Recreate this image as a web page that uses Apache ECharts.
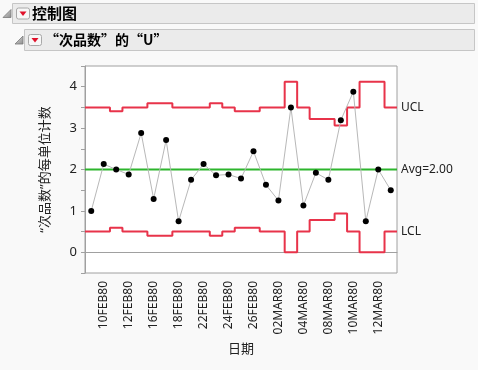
<!DOCTYPE html>
<html><head><meta charset="utf-8">
<script src="https://cdn.jsdelivr.net/npm/echarts@6/dist/echarts.min.js"></script>
<style>html,body{margin:0;padding:0;background:#f9f9f9;}#c{width:478px;height:370px;}</style>
</head><body><div id="c"></div>
<script>
const dates = ['09FEB80','10FEB80','11FEB80','12FEB80','15FEB80','16FEB80','17FEB80','18FEB80','19FEB80','22FEB80','23FEB80','24FEB80','25FEB80','26FEB80','01MAR80','02MAR80','03MAR80','04MAR80','07MAR80','08MAR80','09MAR80','10MAR80','11MAR80','12MAR80','13MAR80'];
const uValues = [1.0,2.13,2.0,1.88,2.88,1.29,2.71,0.75,1.75,2.13,1.86,1.88,1.78,2.44,1.63,1.25,3.5,1.13,1.92,1.75,3.19,3.88,0.75,2.0,1.5];
const ucl = [3.5,3.5,3.41,3.5,3.5,3.6,3.6,3.5,3.5,3.5,3.6,3.5,3.41,3.41,3.5,3.5,4.12,3.5,3.22,3.22,3.06,3.5,4.12,4.12,3.5];
const lcl = [0.5,0.5,0.59,0.5,0.5,0.4,0.4,0.5,0.5,0.5,0.4,0.5,0.59,0.59,0.5,0.5,0,0.5,0.78,0.78,0.94,0.5,0,0,0.5];
const avg = 2.0;
const yTicks = [0,1,2,3,4];
const title1 = '控制图';
const title2 = '“次品数”的“U”';
const yTitle = '“次品数”的每单位计数';
const xTitle = '日期';

const FONT = '"Noto Sans", "Noto Sans CJK SC", sans-serif';
const CJKFONT = '"Noto Sans CJK SC", "Noto Sans", sans-serif';
const n = dates.length;
function stepData(arr){ const d = arr.map((v,i)=>[i,v]); d.push([n, arr[arr.length-1]]); return d; }

const chart = echarts.init(document.getElementById('c'), null, {renderer:'canvas'});
const triGrad = new echarts.graphic.LinearGradient(0,0,1,1,[{offset:0,color:'#e0e0e0'},{offset:1,color:'#8a8a8a'}]);
function header(x, y, w, h, triX, btnX, textX, text, fs, font){
  const cy = y + h/2;
  return [
    {type:'rect', shape:{x:x, y:y, width:w, height:h}, style:{fill:'#ebebeb', stroke:'#c6c6c6', lineWidth:1}},
    {type:'polygon', shape:{points:[[triX, cy+4],[triX+8, cy+4],[triX+8, cy-4]]}, style:{fill:triGrad, stroke:'#7a7a7a', lineWidth:0.8}},
    {type:'rect', shape:{x:btnX, y:cy-5.5, width:13, height:11, r:2}, style:{fill:'#f7f7f7', stroke:'#a8a8a8', lineWidth:1}},
    {type:'polygon', shape:{points:[[btnX+3, cy-2],[btnX+10, cy-2],[btnX+6.5, cy+2.5]]}, style:{fill:'#e0102a'}},
    {type:'text', x:textX, y:cy, style:{text:text, font:'bold '+fs+'px '+font, fill:'#000', verticalAlign:'middle', align:'left'}}
  ];
}

const option = {
  backgroundColor:'#f9f9f9',
  animation:false,
  graphic: [].concat(
    header(12.5, 3.5, 462, 20, 3, 16.5, 32, title1, 15, CJKFONT),
    header(24.5, 29.5, 450, 21, 15, 28.5, 45, title2, 14, CJKFONT)
  ),
  grid:{left:85, right:81, top:66, bottom:97, show:true, backgroundColor:'#ffffff', borderColor:'#a0a0a0', borderWidth:1},
  xAxis:[
    {type:'category', data:dates, boundaryGap:true,
     axisLine:{lineStyle:{color:'#a0a0a0'}},
     axisTick:{alignWithLabel:true, interval:(i)=>i%2===1, length:6, lineStyle:{color:'#a0a0a0'}},
     axisLabel:{rotate:90, interval:(i)=>i%2===1, fontSize:12, fontFamily:FONT, color:'#222', margin:8},
     name:xTitle, nameLocation:'middle', nameGap:68, nameTextStyle:{fontSize:13, fontFamily:FONT, color:'#222'},
     splitLine:{show:false}},
    {type:'value', min:0, max:n, show:false}
  ],
  yAxis:{type:'value', min:-0.5, max:4.5, interval:0.5,
    axisLine:{show:true, lineStyle:{color:'#a0a0a0'}},
    axisTick:{show:true, length:4, lineStyle:{color:'#a0a0a0'}},
    axisLabel:{fontSize:13, fontFamily:FONT, color:'#222', margin:8,
      formatter:(v)=>{ const r=Math.round(v*10)/10; return yTicks.indexOf(r)>=0 ? String(r) : ''; }},
    splitLine:{show:false},
    name:yTitle, nameLocation:'middle', nameRotate:90, nameGap:33,
    nameTextStyle:{fontSize:13, fontFamily:FONT, color:'#222'}},
  series:[
    {type:'line', name:'UCL', xAxisIndex:1, step:'end', data:stepData(ucl), symbol:'none',
     lineStyle:{color:'#e8334a', width:2}, itemStyle:{color:'#e8334a'},
     endLabel:{show:true, formatter:'UCL', fontSize:12, fontFamily:FONT, color:'#222', distance:4}},
    {type:'line', name:'LCL', xAxisIndex:1, step:'end', data:stepData(lcl), symbol:'none',
     lineStyle:{color:'#e8334a', width:2}, itemStyle:{color:'#e8334a'},
     endLabel:{show:true, formatter:'LCL', fontSize:12, fontFamily:FONT, color:'#222', distance:4}},
    {type:'line', name:'Avg', xAxisIndex:1, data:[[0,avg],[n,avg]], symbol:'none',
     lineStyle:{color:'#2db52d', width:2}, itemStyle:{color:'#2db52d'},
     endLabel:{show:true, formatter:'Avg=' + avg.toFixed(2), fontSize:12, fontFamily:FONT, color:'#222', distance:4}},
    {type:'line', name:'U', xAxisIndex:0, data:uValues, symbol:'circle', symbolSize:6,
     lineStyle:{color:'#b8b8b8', width:1}, itemStyle:{color:'#000'}, z:5}
  ]
};
chart.setOption(option);
</script></body></html>
